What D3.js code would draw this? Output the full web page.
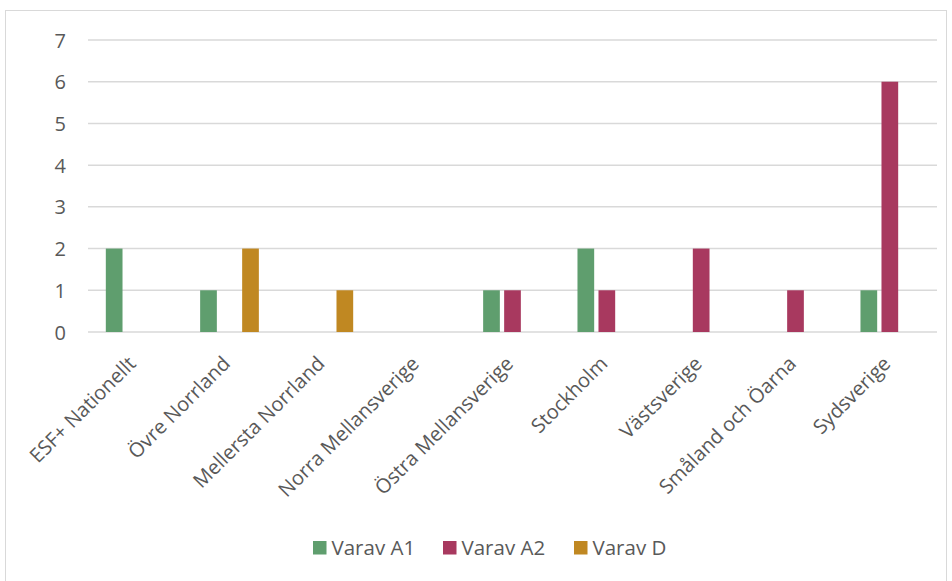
<!DOCTYPE html>
<html><head><meta charset="utf-8">
<script src="https://cdn.jsdelivr.net/npm/d3@7"></script>
<style>
html,body{margin:0;padding:0;background:#fff;}
svg text{font-family:"Open Sans",sans-serif;fill:#595959;}
</style></head>
<body><svg id="c" width="952" height="581"></svg>
<script>
const categories = ["ESF+ Nationellt","Övre Norrland","Mellersta Norrland","Norra Mellansverige","Östra Mellansverige","Stockholm","Västsverige","Småland och Öarna","Sydsverige"];
const seriesNames = ["Varav A1","Varav A2","Varav D"];
const varavA1 = [2,1,0,0,1,2,0,0,1];
const varavA2 = [0,0,0,0,1,1,2,1,6];
const varavD  = [0,2,1,0,0,0,0,0,0];
const yTicks = [0,1,2,3,4,5,6,7];
const colors = ["#5F9E6E","#A8395F","#C08822"];

(function(){
const seriesValues = [varavA1, varavA2, varavD];
const svg = d3.select("#c");
svg.append("rect").attr("x",5.5).attr("y",10.5).attr("width",941).attr("height",580)
  .attr("fill","none").attr("stroke","#d9d9d9").attr("stroke-width",1);

const pL=88, pR=937, pT=40, pB=332;
const x0 = d3.scaleBand().domain(categories).range([pL,pR]).padding(0);
const x1 = d3.scaleBand().domain(seriesNames).range([0,x0.bandwidth()]).paddingInner(0.205).paddingOuter(0.848);
const y = d3.scaleLinear().domain([0,7]).range([pB,pT]);

svg.append("g").selectAll("line").data(yTicks).join("line")
  .attr("x1",pL).attr("x2",pR).attr("y1",d=>y(d)).attr("y2",d=>y(d))
  .attr("stroke","#d9d9d9").attr("stroke-width",1.5);

const yAxis = d3.axisLeft(y).tickValues(yTicks).tickFormat(d3.format("d")).tickSize(0).tickPadding(0);
const ga = svg.append("g").attr("transform",`translate(66,0)`).call(yAxis);
ga.select(".domain").remove();
ga.selectAll("text").attr("font-size","20px").attr("fill","#595959").attr("font-family","Open Sans").attr("dy","0.35em");

const data = [];
categories.forEach((c,i)=>seriesNames.forEach((s,j)=>{ if(seriesValues[j][i]>0) data.push({c,s,v:seriesValues[j][i],j}); }));
svg.append("g").selectAll("rect").data(data).join("rect")
  .attr("x",d=>x0(d.c)+x1(d.s)).attr("width",x1.bandwidth())
  .attr("y",d=>y(d.v)).attr("height",d=>y(0)-y(d.v))
  .attr("fill",d=>colors[d.j]);

const xAxis = d3.axisBottom(x0).tickSize(0).tickPadding(0);
const gx = svg.append("g").attr("transform",`translate(0,${pB})`).call(xAxis);
gx.select(".domain").remove();
gx.selectAll("text").attr("font-size","20px").attr("fill","#595959").attr("font-family","Open Sans")
  .attr("text-anchor","end").attr("y",0)
  .attr("transform","translate(-3,28) rotate(-45)").attr("dy","0.35em");

const legX = [313,443,574];
const lg = svg.append("g");
seriesNames.forEach((s,j)=>{
  lg.append("rect").attr("x",legX[j]).attr("y",541).attr("width",13.5).attr("height",13.5).attr("fill",colors[j]);
  lg.append("text").attr("x",legX[j]+18.5).attr("y",554.5).attr("font-size","20.5px").text(s);
});
})();
</script></body></html>
